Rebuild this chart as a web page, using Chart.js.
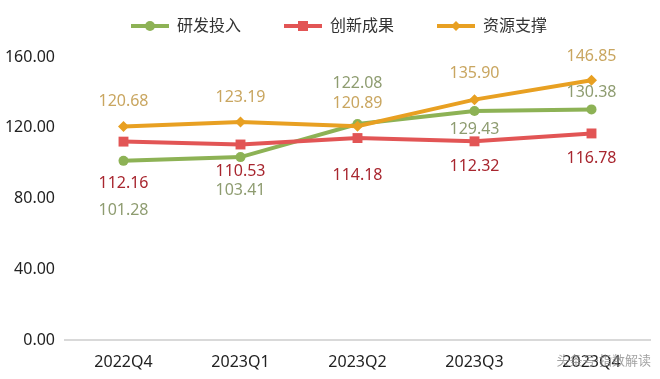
<!DOCTYPE html>
<html>
<head>
<meta charset="utf-8">
<script src="https://cdn.jsdelivr.net/npm/chart.js@4"></script>
<style>
  html, body { margin: 0; padding: 0; background: #ffffff; }
  #wrap { width: 660px; height: 379px; position: relative; }
</style>
</head>
<body>
<div id="wrap"><canvas id="c" width="660" height="379"></canvas></div>
<script>
const categories = ['2022Q4', '2023Q1', '2023Q2', '2023Q3', '2023Q4'];
const seriesNames = ['研发投入', '创新成果', '资源支撑'];
const rdValues = [101.28, 103.41, 122.08, 129.43, 130.38];
const innovationValues = [112.16, 110.53, 114.18, 112.32, 116.78];
const resourceValues = [120.68, 123.19, 120.89, 135.90, 146.85];

const FONT = '"Noto Sans", "Noto Sans CJK SC", sans-serif';
const lineColors = ['#8DB255', '#E25555', '#E8A022'];
const labelColors = ['#8E9C70', '#A8262F', '#C9A660'];
const pointStyles = ['circle', 'rect', 'rectRot'];
// label vertical offsets relative to point (style only)
const labelOffsets = [
  [50, 33, -41, 18, -17],
  [42, 27, 37, 25, 25],
  [-25, -25, -23, -26, -24]
];

function makeLegendIcon(color, style) {
  const cv = document.createElement('canvas');
  cv.width = 66; cv.height = 14;
  const g = cv.getContext('2d');
  const x0 = 28, x1 = 66, cy = 7, cx = (x0 + x1) / 2;
  g.strokeStyle = color; g.lineWidth = 4; g.lineCap = 'butt';
  g.beginPath(); g.moveTo(x0, cy); g.lineTo(x1, cy); g.stroke();
  g.fillStyle = color;
  g.beginPath();
  if (style === 'circle') { g.arc(cx, cy, 5, 0, Math.PI * 2); }
  else if (style === 'rect') { g.rect(cx - 5, cy - 5, 10, 10); }
  else { g.moveTo(cx, cy - 5); g.lineTo(cx + 5, cy); g.lineTo(cx, cy + 5); g.lineTo(cx - 5, cy); g.closePath(); }
  g.fill();
  return cv;
}
const legendIcons = lineColors.map((c, i) => makeLegendIcon(c, pointStyles[i]));

const legendHeight = {
  id: 'legendHeight',
  beforeLayout(chart, args, opts) {
    const lg = chart.legend;
    if (lg && !lg._fixedFit) {
      const orig = lg.fit;
      lg.fit = function () { orig.call(this); this.height = opts.height; };
      lg._fixedFit = true;
    }
  }
};

const valueLabels = {
  id: 'valueLabels',
  afterDatasetsDraw(chart, args, opts) {
    const ctx = chart.ctx;
    chart.data.datasets.forEach((ds, di) => {
      const meta = chart.getDatasetMeta(di);
      meta.data.forEach((pt, i) => {
        ctx.save();
        ctx.font = '16px ' + FONT;
        ctx.fillStyle = opts.colors[di];
        ctx.textAlign = 'center';
        ctx.textBaseline = 'middle';
        ctx.fillText(ds.data[i].toFixed(2), pt.x, pt.y + opts.offsets[di][i]);
        ctx.restore();
      });
    });
  }
};

const watermark = {
  id: 'watermark',
  afterDraw(chart) {
    const ctx = chart.ctx;
    ctx.save();
    ctx.font = '13px ' + FONT;
    ctx.fillStyle = 'rgba(140,140,140,0.8)';
    ctx.textAlign = 'right';
    ctx.textBaseline = 'middle';
    ctx.fillText('头条号·指数解读', 651, 361);
    ctx.restore();
  }
};

const datasets = [rdValues, innovationValues, resourceValues].map((vals, i) => ({
  label: seriesNames[i],
  data: vals,
  borderColor: lineColors[i],
  backgroundColor: lineColors[i],
  pointBackgroundColor: lineColors[i],
  pointBorderColor: lineColors[i],
  pointStyle: pointStyles[i],
  pointRadius: [5, 7, 5.5][i],
  pointBorderWidth: 0,
  borderWidth: 4,
  tension: 0,
  fill: false,
  order: 2 - i
}));

new Chart(document.getElementById('c'), {
  type: 'line',
  data: { labels: categories, datasets },
  options: {
    responsive: false,
    animation: false,
    devicePixelRatio: 1,
    layout: { padding: { left: 0, right: 10, top: 3, bottom: 0 } },
    plugins: {
      tooltip: { enabled: false },
      legendHeight: { height: 54 },
      legend: {
        position: 'top',
        labels: {
          usePointStyle: true,
          pointStyleWidth: 66,
          padding: 15,
          color: '#333333',
          font: { size: 16, family: FONT },
          generateLabels(chart) {
            return chart.data.datasets.map((ds, i) => ({
              text: ds.label,
              datasetIndex: i,
              pointStyle: legendIcons[i],
              fillStyle: ds.borderColor,
              strokeStyle: ds.borderColor,
              lineWidth: 0,
              hidden: false,
              fontColor: '#333333'
            }));
          }
        }
      },
      valueLabels: { offsets: labelOffsets, colors: labelColors }
    },
    scales: {
      x: {
        type: 'category',
        offset: true,
        grid: { display: false, drawTicks: false },
        border: { display: true, color: '#D9D9D9', width: 2 },
        ticks: { color: '#222222', font: { size: 16, family: FONT }, padding: 13, maxRotation: 0 },
        afterFit(scale) { scale.height = 39; }
      },
      y: {
        min: 0, max: 160,
        grid: { display: false, drawTicks: false },
        border: { display: false },
        ticks: {
          stepSize: 40,
          color: '#222222',
          font: { size: 16, family: FONT },
          padding: 10,
          callback: v => Number(v).toFixed(2)
        },
        afterFit(scale) { scale.width = 65; }
      }
    }
  },
  plugins: [legendHeight, valueLabels, watermark]
});
</script>
</body>
</html>
